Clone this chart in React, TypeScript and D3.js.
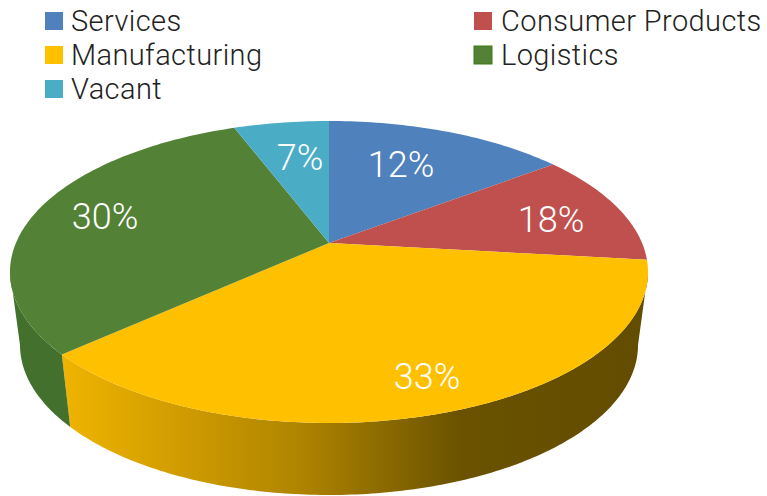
import { pie, range, line as d3line } from "d3";

const categories = ["Services", "Consumer Products", "Manufacturing", "Logistics", "Vacant"];
// printed labels
const percentLabels = [12, 18, 33, 30, 7];
// slice sizes as drawn in the picture (they do not follow the printed labels)
const drawnShares = [12.4, 11.3, 42.1, 29.4, 4.8];
const colors = ["#4f81bd", "#c0504d", "#ffc000", "#538135", "#4bacc6"];

const W = 767, H = 496;
const TOP = { cx: 329, cy: 272, rx: 319, ry: 151 };
const BOTTOM = { cx: 329, cy: 345, rx: 309, ry: 150 };
const APEX: [number, number] = [329, 243];
const FONT = "Roboto, sans-serif";

const LEGEND_X = [45, 474];
const LEGEND_Y = [21, 55, 89];
const LABEL_POS: [number, number][] = [[401, 177], [551, 232], [427, 389], [105, 229], [300, 170]];

const pieGen = pie<number>().sort(null).value(d => d);
const slices = pieGen(drawnShares);

type Ell = typeof TOP;
const pt = (e: Ell, t: number): [number, number] => [e.cx + e.rx * Math.sin(t), e.cy - e.ry * Math.cos(t)];
const line = d3line<[number, number]>();
const rim = (e: Ell, a: number, b: number) => {
  const n = Math.max(2, Math.ceil(Math.abs(b - a) * 60));
  return range(n + 1).map(i => pt(e, a + (b - a) * i / n));
};

// front wall: from the right silhouette round to the left one
const wall = (a: number, b: number) => {
  const from = Math.max(a, Math.PI / 2), to = Math.min(b, Math.PI * 1.5);
  if (to <= from) return "";
  return line([...rim(TOP, from, to), ...rim(BOTTOM, to, from)]) + "Z";
};

export default function App() {
  return (
    <svg width={W} height={H} viewBox={`0 0 ${W} ${H}`} style={{ position: "absolute", left: 0, top: 0, background: "#fff" }}>
      <defs>
        <linearGradient id="wallYellow" x1="0" x2="1" y1="0" y2="0">
          <stop offset="0%" stopColor="#f0b400" />
          <stop offset="40%" stopColor="#b08500" />
          <stop offset="68%" stopColor="#6a5200" />
          <stop offset="100%" stopColor="#624c00" />
        </linearGradient>
      </defs>

      {slices.map((s, i) => {
        const d = wall(s.startAngle, s.endAngle);
        if (!d) return null;
        return <path key={i} d={d} fill={i === 2 ? "url(#wallYellow)" : "#44702e"} />;
      })}

      {slices.map((s, i) => (
        <path key={i} d={line([APEX, ...rim(TOP, s.startAngle, s.endAngle)]) + "Z"} fill={colors[i]} />
      ))}

      {percentLabels.map((v, i) => (
        <text key={i} x={LABEL_POS[i][0]} y={LABEL_POS[i][1]} fill="#fff" textAnchor="middle"
          fontFamily={FONT} fontWeight={300} fontSize={36}>{v}%</text>
      ))}

      {categories.map((c, i) => {
        const x = LEGEND_X[i % 2], y = LEGEND_Y[Math.floor(i / 2)];
        return (
          <g key={c} transform={`translate(${x},${y})`}>
            <rect y={-9} width={18} height={18} fill={colors[i]}
              stroke={c === "Logistics" ? "#3f7a10" : "none"} strokeWidth={1} />
            <text x={i % 2 ? 27 : 26} y={9.5} fill="#222" fontFamily={FONT} fontWeight={300} fontSize={29}
              letterSpacing={0.4}>{c}</text>
          </g>
        );
      })}
    </svg>
  );
}
